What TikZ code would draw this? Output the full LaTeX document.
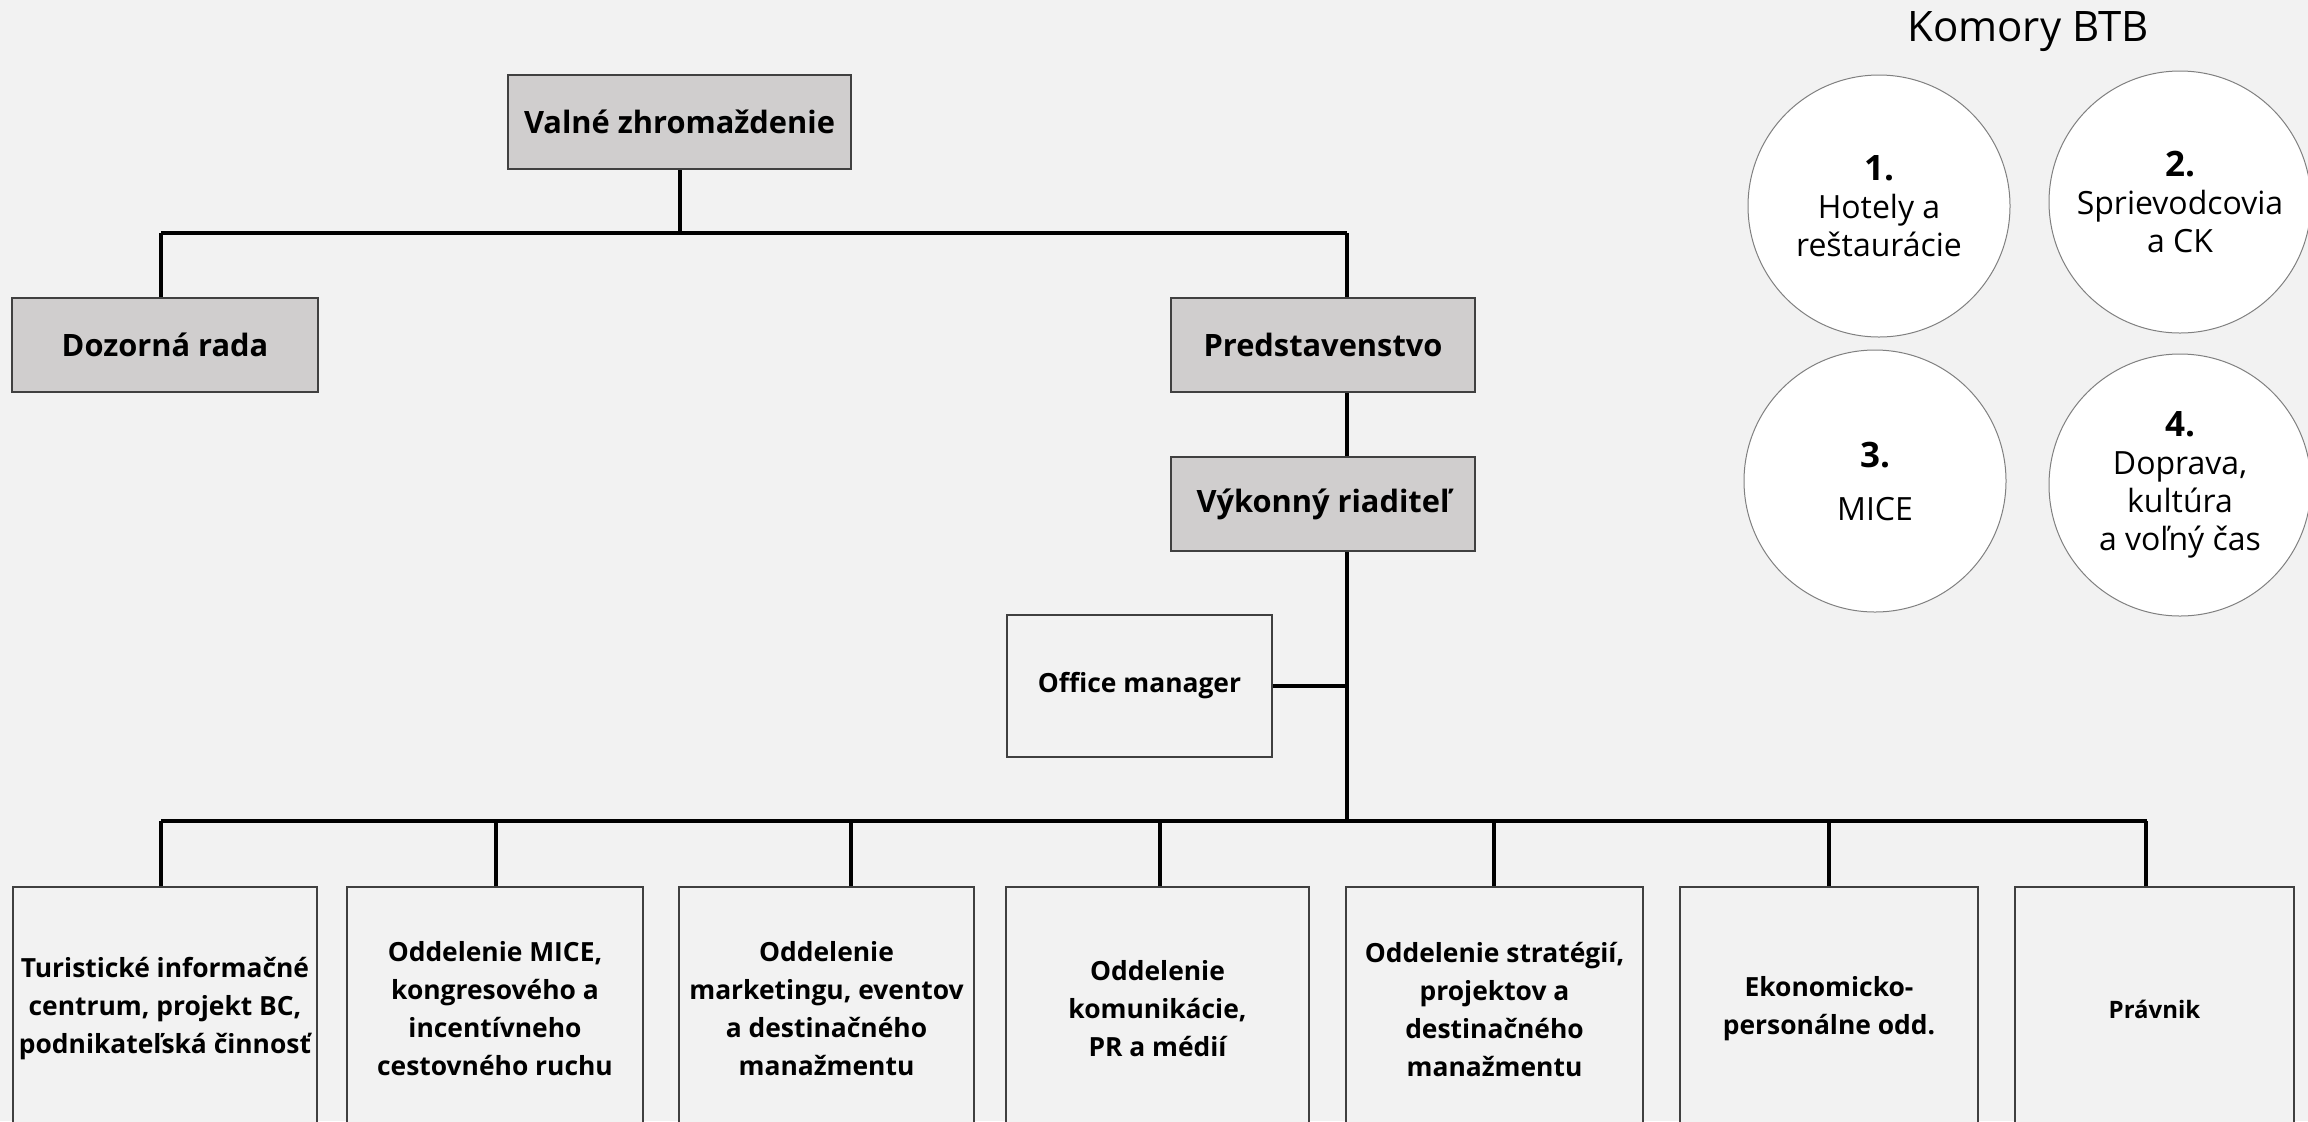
\documentclass[tikz,border=0pt]{standalone}
\usepackage{fontspec}
\setmainfont{Open Sans}
\usepackage{xcolor}
\usepackage{tikz}

\definecolor{bgcol}{HTML}{F2F2F2}
\definecolor{boxfill}{HTML}{D0CECE}
\definecolor{boxline}{HTML}{404040}
\definecolor{ringline}{HTML}{808080}

\begin{document}
\begin{tikzpicture}[x=0.5pt,y=0.5pt,yscale=-1,xscale=1,
  topbox/.style={draw=boxline,line width=1pt,fill=boxfill,inner sep=0pt,minimum height=47pt,font=\bfseries\fontsize{15.4}{19}\selectfont,align=center},
  deptbox/.style={draw=boxline,line width=1pt,fill=bgcol,inner sep=0pt,minimum height=122pt,font=\bfseries\fontsize{13.2}{19}\selectfont,align=center},
  chamber/.style={circle,draw=ringline,line width=0.5pt,fill=white,inner sep=0pt,minimum size=131pt,font=\fontsize{16}{19}\selectfont,align=center},
  link/.style={line width=2pt}]
%set diagram to the size of the slide
\useasboundingbox (0,0) rectangle (2308,1121);
\clip (0,0) rectangle (2308,1121);
\fill [bgcol] (0,0) rectangle (2308,1121);

%Shape: Rectangle [Valne zhromazdenie]
\node [topbox,minimum width=171.5pt] (valne) at (679.5,122) {Valné zhromaždenie};
%Shape: Rectangle [Dozorna rada]
\node [topbox,minimum width=153pt] (dozor) at (165,345) {Dozorná rada};
%Shape: Rectangle [Predstavenstvo]
\node [topbox,minimum width=152pt] (pred) at (1323,345) {Predstavenstvo};
%Shape: Rectangle [Vykonny riaditel]
\node [topbox,minimum width=152pt] (vyk) at (1323,504) {Výkonný riaditeľ};
%Shape: Rectangle [Office manager]
\node [draw=boxline,line width=1pt,fill=bgcol,inner sep=0pt,minimum width=132.5pt,minimum height=71pt,font=\bfseries\fontsize{13.2}{17}\selectfont] (office) at (1139.5,686) {Office manager};

%Shape: Rectangle [departments]
\node [deptbox,minimum width=152pt] (t1) at (165,1009) {Turistické informačné\\centrum, projekt BC,\\podnikateľská činnosť};
\node [deptbox,minimum width=148pt] (t2) at (495,1009) {Oddelenie MICE,\\kongresového a\\incentívneho\\cestovného ruchu};
\node [deptbox,minimum width=147.5pt] (t3) at (826.5,1009) {Oddelenie\\marketingu, eventov\\a destinačného\\manažmentu};
\node [deptbox,minimum width=151.5pt] (t4) at (1157.5,1009) {Oddelenie\\komunikácie,\\PR a médií};
\node [deptbox,minimum width=148.5pt] (t5) at (1494.5,1009) {Oddelenie stratégií,\\projektov a\\destinačného\\manažmentu};
\node [deptbox,minimum width=149pt] (t6) at (1829,1009) {Ekonomicko-\\personálne odd.};
\node [deptbox,minimum width=139.5pt,font=\bfseries\fontsize{12}{15}\selectfont] (t7) at (2154.5,1009) {Právnik};

%Straight Lines [upper bus]
\coordinate (busL) at (161,233);
\coordinate (busR) at (1347,233);
\draw [link] (busL) -- (busR);
\draw [link] (valne.south) -- (valne.south |- busL);
\draw [link] (busL) -- (busL |- dozor.north);
\draw [link] (busR) -- (busR |- pred.north);
\draw [link] (busR |- pred.south) -- (busR |- vyk.north);
%Straight Lines [lower bus]
\coordinate (lowL) at (161,821);
\coordinate (lowR) at (2147,821);
\draw [link] (busR |- vyk.south) -- (busR |- lowL);
\draw [link] (office.east) -- (office.east -| busR);
\draw [link] (lowL) -- (lowR);
\foreach \n/\x in {t1/161,t2/496,t3/851,t4/1160,t5/1494,t6/1829,t7/2146}{
  \coordinate (d\n) at (\x,821);
  \draw [link] (d\n) -- (d\n |- \n.north);
}

% Text Node
\node [anchor=base,font=\fontsize{21}{25}\selectfont] (komory) at (2028,41) {Komory BTB};
%Shape: Circle [chambers]
\node [chamber] (k1) at (1879,206) {{\fontsize{17.5}{19}\selectfont\bfseries 1.}\\Hotely a\\reštaurácie};
\node [chamber] (k2) at (2180,202) {{\fontsize{17.5}{19}\selectfont\bfseries 2.}\\Sprievodcovia\\a CK};
\node [chamber] (k3) at (1875,481) {{\fontsize{17.5}{19}\selectfont\bfseries 3.}\\[7.5pt]MICE};
\node [chamber] (k4) at (2180,485) {{\fontsize{17.5}{19}\selectfont\bfseries 4.}\\Doprava,\\kultúra\\a voľný čas};

\end{tikzpicture}
\end{document}
